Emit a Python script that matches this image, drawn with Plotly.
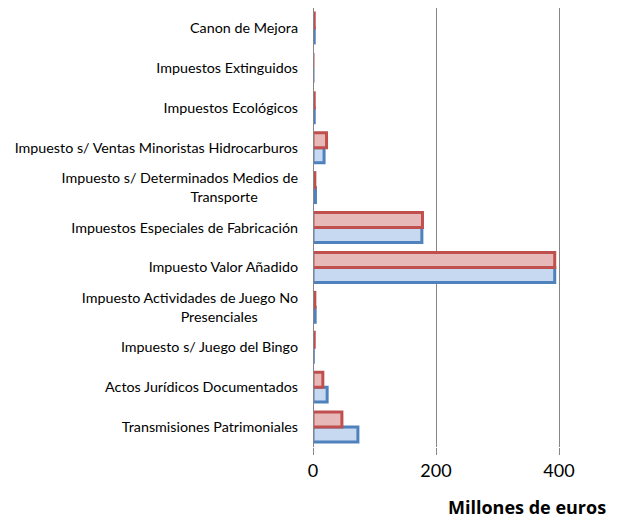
import plotly.graph_objects as go

NB = "\u00a0"
categories = [
    "Transmisiones Patrimoniales",
    "Actos Jurídicos Documentados",
    "Impuesto s/ Juego del Bingo",
    "Impuesto Actividades de Juego No<br>Presenciales" + NB * 11,
    "Impuesto Valor Añadido",
    "Impuestos Especiales de Fabricación",
    "Impuesto s/ Determinados Medios de<br>Transporte" + NB * 11,
    "Impuesto s/ Ventas Minoristas Hidrocarburos",
    "Impuestos Ecológicos",
    "Impuestos Extinguidos",
    "Canon de Mejora",
]
serie_azul = [73, 23, 0.5, 3.5, 393, 177, 4, 18, 2, 0, 2]
serie_roja = [47, 16, 2, 3, 393, 178, 3, 22, 2, 0, 2]
x_ticks = [0, 200, 400]

fig = go.Figure()
fig.add_trace(go.Bar(
    y=categories, x=serie_azul, orientation="h",
    marker=dict(color="#C6D9F1", line=dict(color="#4F81BD", width=3)),
    showlegend=False,
))
fig.add_trace(go.Bar(
    y=categories, x=serie_roja, orientation="h",
    marker=dict(color="#E6B9B8", line=dict(color="#C0504D", width=3)),
    showlegend=False,
))

fig.update_layout(
    width=611, height=508,
    margin=dict(l=305, r=0, t=0, b=69, autoexpand=False),
    paper_bgcolor="white", plot_bgcolor="white",
    barmode="group", bargap=0.25, bargroupgap=0,
    font=dict(family="Lato, Carlito, sans-serif", color="black"),
    xaxis=dict(
        range=[0, 497.5], tickvals=x_ticks, ticktext=[str(v) for v in x_ticks],
        showgrid=True, gridcolor="#868686", gridwidth=1,
        zeroline=False, showline=False, automargin=False,
        ticks="outside", ticklen=7, tickcolor="#868686",
        tickfont=dict(size=18, family="Lato, Carlito, sans-serif"),
    ),
    yaxis=dict(
        type="category", showgrid=False, zeroline=False, automargin=False,
        showline=False, ticks="", ticklabelstandoff=14,
        tickfont=dict(size=14.3, family="Lato, Carlito, sans-serif"),
    ),
    shapes=[dict(type="line", xref="x", yref="paper", x0=0, x1=0, y0=0, y1=1,
                 line=dict(color="#868686", width=2))],
    annotations=[dict(
        text="<b>Millones de euros</b>", xref="paper", yref="paper",
        x=1, y=-60 / 439, xanchor="right", yanchor="middle", xshift=-11, showarrow=False,
        font=dict(size=18, family="Open Sans, sans-serif", color="black"),
    )],
)

fig.write_html("out.html")
